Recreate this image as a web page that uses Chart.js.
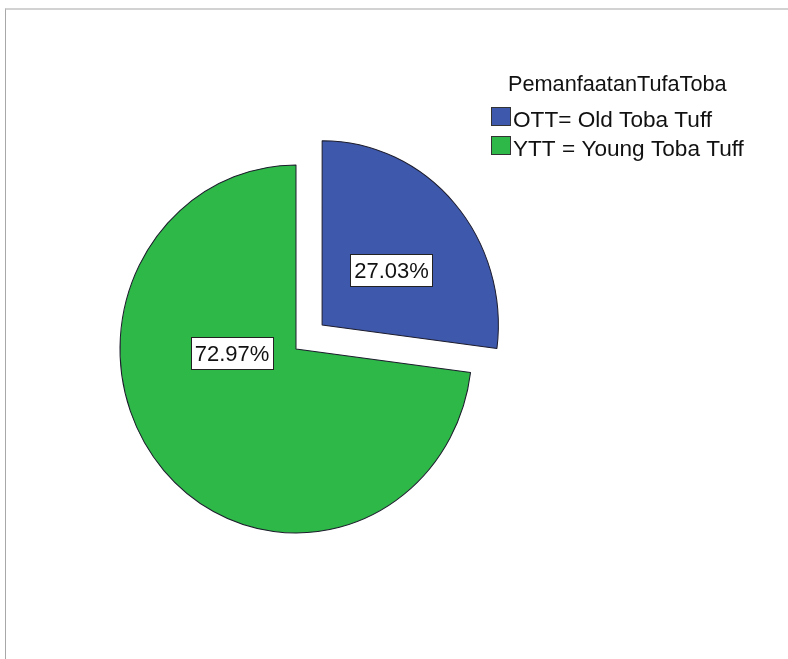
<!DOCTYPE html>
<html>
<head>
<meta charset="utf-8">
<script src="https://cdn.jsdelivr.net/npm/chart.js@4/dist/chart.umd.min.js"></script>
<style>
  body { margin: 0; background: #fff; }
  #wrap { position: relative; width: 788px; height: 659px; }
  #frame { position: absolute; left: 5px; top: 8px; right: 0; bottom: 0;
           border-top: 2px solid #d2d2d2; border-left: 1px solid #a8a8a8; }
  canvas { position: absolute; left: 0; top: 0; }
</style>
</head>
<body>
<div id="wrap">
  <div id="frame"></div>
  <canvas id="pie-chart" width="788" height="659"></canvas>
</div>
<script>
// data
var legendTitle = 'PemanfaatanTufaToba';
var labels = ['OTT= Old Toba Tuff', 'YTT = Young Toba Tuff'];
var percents = [27.03, 72.97];
var colors = ['#3e58ac', '#2eb848'];

// pie is a bit taller than wide in the original
var stretchY = 184 / 176;
// where the % box sits inside each slice (angle from top clockwise, fraction of radius)
var labelPos = [{ angle: 52.4, frac: 0.494 }, { angle: 266.6, frac: 0.367 }];

var stretch = {
  id: 'stretch',
  beforeDatasetsDraw: function(chart) {
    var arc = chart.getDatasetMeta(0).data[0];
    var ctx = chart.ctx;
    ctx.save();
    ctx.translate(0, arc.y);
    ctx.scale(1, stretchY);
    ctx.translate(0, -arc.y);
  },
  afterDatasetsDraw: function(chart) {
    chart.ctx.restore();
  }
};

var pieLabels = {
  id: 'pieLabels',
  afterDraw: function(chart) {
    var ctx = chart.ctx;
    var meta = chart.getDatasetMeta(0);
    ctx.save();
    ctx.font = '22px "Liberation Sans", Arial, sans-serif';
    ctx.textAlign = 'center';
    ctx.textBaseline = 'middle';
    meta.data.forEach(function(arc, i) {
      var p = arc.getProps(['x', 'y', 'startAngle', 'endAngle', 'outerRadius'], true);
      var half = (p.startAngle + p.endAngle) / 2;
      var off = (arc.options.offset || 0) / 4;
      var cx = p.x + Math.cos(half) * off;
      var cy = p.y + Math.sin(half) * off;
      var a = (labelPos[i].angle - 90) * Math.PI / 180;
      var lx = cx + Math.cos(a) * p.outerRadius * labelPos[i].frac;
      var ly = cy + Math.sin(a) * p.outerRadius * labelPos[i].frac;
      ly = p.y + (ly - p.y) * stretchY;
      var txt = percents[i].toFixed(2) + '%';
      var w = Math.round(ctx.measureText(txt).width + 7);
      var h = 32;
      var bx = Math.round(lx - w / 2), by = Math.round(ly - h / 2);
      ctx.fillStyle = '#fff';
      ctx.fillRect(bx, by, w, h);
      ctx.strokeStyle = '#222';
      ctx.lineWidth = 1;
      ctx.strokeRect(bx + 0.5, by + 0.5, w, h);
      ctx.fillStyle = '#111';
      ctx.fillText(txt, lx + 0.5, ly + 2);
    });
    ctx.restore();
  }
};

var sideLegend = {
  id: 'sideLegend',
  afterDraw: function(chart) {
    var ctx = chart.ctx;
    ctx.save();
    ctx.fillStyle = '#111';
    ctx.textBaseline = 'alphabetic';
    ctx.font = '21.7px "Liberation Sans", Arial, sans-serif';
    ctx.fillText(legendTitle, 508, 91);
    ctx.font = '22.6px "Liberation Sans", Arial, sans-serif';
    labels.forEach(function(l, i) {
      var y = 107 + i * 29;
      ctx.fillStyle = colors[i];
      ctx.fillRect(491, y, 20, 19);
      ctx.strokeStyle = '#333';
      ctx.lineWidth = 1;
      ctx.strokeRect(491.5, y + 0.5, 19, 18);
      ctx.fillStyle = '#111';
      ctx.fillText(l, 513, y + 20);
    });
    ctx.restore();
  }
};

new Chart(document.getElementById('pie-chart'), {
  type: 'pie',
  data: {
    labels: labels,
    datasets: [{
      data: percents,
      backgroundColor: colors,
      borderColor: '#1c1c2c',
      borderWidth: 1,
      offset: [139, 0],
      hoverOffset: 0
    }]
  },
  options: {
    responsive: false,
    animation: false,
    events: [],
    radius: 176,
    layout: { padding: { left: 0, top: 39, right: 196, bottom: 0 } },
    plugins: {
      legend: { display: false },
      tooltip: { enabled: false }
    }
  },
  plugins: [stretch, pieLabels, sideLegend]
});
</script>
</body>
</html>
